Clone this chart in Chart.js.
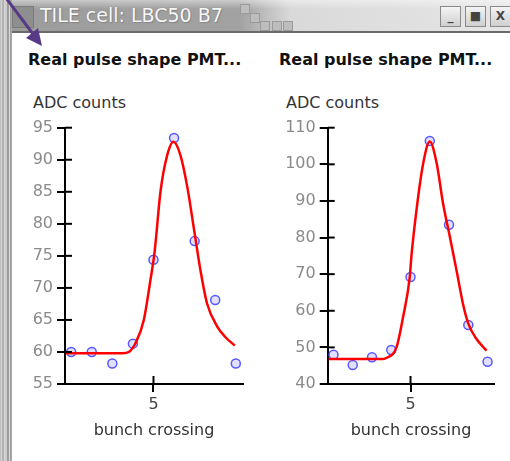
<!DOCTYPE html>
<html>
<head>
<meta charset="utf-8">
<script src="https://cdn.jsdelivr.net/npm/chart.js@4.4.0/dist/chart.umd.min.js"></script>
<style>
  body { margin: 0; width: 510px; height: 461px; overflow: hidden; background: #fff; position: relative;
         font-family: "DejaVu Sans", sans-serif; }
  .titlebar { position: absolute; left: 0; top: 0; width: 510px; height: 31px;
              background: linear-gradient(to right, #9c9c9c 0, #a2a2a2 240px, #d9d9d9 290px, #e6e6e6 100%);
              border-bottom: 2px solid #6a6a6a; }
  .titlebar .shine { position: absolute; left: 0; top: 0; width: 100%; height: 9px;
                     background: linear-gradient(to bottom, rgba(255,255,255,0.45), rgba(255,255,255,0)); }
  .titlebar .icon { position: absolute; left: 12px; top: 6px; width: 20px; height: 20px;
                    background: #8e8e8e; border: 1px solid #7a7a7a; }
  .titlebar .caption { position: absolute; left: 40px; top: 4px; font-size: 19px; color: #f7f7f7;
                       text-shadow: 0 0 1px #777, 1px 1px 1px #888; white-space: nowrap; }
  .titlebar .chk { position: absolute; width: 8px; height: 8px; background: #bdbdbd; border: 1px solid #9a9a9a; }
  .btn { position: absolute; top: 6px; width: 19px; height: 19px; background: linear-gradient(#f4f4f4, #cfcfcf);
         border: 1px solid #8a8a8a; font-size: 12px; line-height: 19px; text-align: center; color: #444; font-weight: bold; }
  .frame { position: absolute; left: 0; top: 0; width: 12px; height: 461px;
           background: linear-gradient(to right, #b8b8b8 0, #dcdcdc 2px, #8c8c8c 3px, #d6d6d6 4px, #c8c8c8 7px, #6e6e6e 8px, #d0d0d0 9px, #e4e4e4 10px, #555 11px, #fff 12px); }
  .ptitle { position: absolute; top: 50px; font-size: 16px; font-weight: bold; color: #111; white-space: nowrap; }
  .ylab { position: absolute; top: 93px; font-size: 16px; color: #333; white-space: nowrap; }
  canvas { position: absolute; top: 60px; }
  #arrow { position: absolute; left: 0; top: 0; }
</style>
</head>
<body>
<div class="titlebar">
  <div class="shine"></div>
  <div class="icon"></div>
  <div class="caption">TILE cell: LBC50 B7</div>
  <div class="chk" style="left:240px;top:4px"></div>
  <div class="chk" style="left:250px;top:13px"></div>
  <div class="chk" style="left:260px;top:21px"></div>
  <div class="chk" style="left:272px;top:21px"></div>
  <div class="chk" style="left:283px;top:21px"></div>
  <div class="btn" style="left:440px">_</div>
  <div class="btn" style="left:465px">&#9632;</div>
  <div class="btn" style="left:490px">X</div>
</div>
<div class="frame"></div>

<div class="ptitle" style="left:28px">Real pulse shape PMT...</div>
<div class="ptitle" style="left:279px">Real pulse shape PMT...</div>
<div class="ylab" style="left:33px">ADC counts</div>
<div class="ylab" style="left:286px">ADC counts</div>

<canvas id="leftChart" width="243" height="400" style="left:12px"></canvas>
<canvas id="rightChart" width="255" height="400" style="left:255px"></canvas>

<svg id="arrow" width="60" height="60">
  <line x1="6" y1="-2" x2="36" y2="38" stroke="#563a86" stroke-width="3"/>
  <polygon points="42,46 26,38 38,28" fill="#563a86"/>
</svg>

<script>
// --- DATA ---
const bunchX = [1, 2, 3, 4, 5, 6, 7, 8, 9];
const leftSamples = [60.0, 60.0, 58.2, 61.3, 74.4, 93.4, 77.3, 68.1, 58.2];
const rightSamples = [48.0, 45.2, 47.3, 49.3, 69.2, 106.4, 83.5, 56.1, 46.1];

// fitted pulse shape
const leftFitX = [0.75, 1.5, 2.5, 3.5, 3.8, 4.13, 4.53, 4.85, 5.05, 5.34, 5.65, 5.97, 6.3, 6.64, 7.0, 7.28, 7.6, 8.09, 8.5, 8.95];
const leftFitY = [59.8, 59.8, 59.8, 59.8, 60.0, 61.4, 65.0, 71.2, 75.5, 85.0, 90.5, 92.8, 90.8, 85.8, 78.5, 72.8, 67.6, 64.0, 62.3, 61.0];
const rightFitX = [0.75, 1.5, 2.5, 3.5, 3.74, 4.27, 4.61, 4.96, 5.05, 5.31, 5.65, 6.0, 6.35, 6.69, 7.05, 7.39, 7.74, 8.0, 8.4, 8.95];
const rightFitY = [46.8, 46.8, 46.8, 46.8, 47.1, 50.0, 58.2, 69.2, 75.1, 87.5, 100.0, 106.2, 100.5, 89.3, 80.0, 71.0, 61.5, 56.5, 52.5, 49.1];

const xTicks = [5];
const leftYTicks = [55, 60, 65, 70, 75, 80, 85, 90, 95];
const rightYTicks = [40, 50, 60, 70, 80, 90, 100, 110];

const FONT = '"DejaVu Sans", sans-serif';

// tick marks that cross the axis line (library draws only the outer half)
const innerTicks = {
  id: 'innerTicks',
  afterDraw(chart) {
    const { ctx, chartArea, scales } = chart;
    ctx.save();
    ctx.strokeStyle = '#000';
    ctx.lineWidth = 2;
    scales.y.ticks.forEach(t => {
      const py = scales.y.getPixelForValue(t.value);
      ctx.beginPath();
      ctx.moveTo(chartArea.left, py);
      ctx.lineTo(chartArea.left + 7, py);
      ctx.stroke();
    });
    scales.x.ticks.forEach(t => {
      const px = scales.x.getPixelForValue(t.value);
      ctx.beginPath();
      ctx.moveTo(px, chartArea.bottom);
      ctx.lineTo(px, chartArea.bottom - 8);
      ctx.stroke();
    });
    ctx.restore();
  }
};

function makeChart(id, samples, fitX, fitY, yTicks, yWidth, padRight) {
  const fitPoints = fitX.map((x, i) => ({ x: x, y: fitY[i] }));
  const samplePoints = bunchX.map((x, i) => ({ x: x, y: samples[i] }));
  return new Chart(document.getElementById(id), {
    type: 'scatter',
    data: {
      datasets: [
        {
          data: fitPoints,
          showLine: true,
          borderColor: '#ff0000',
          borderWidth: 2.5,
          pointRadius: 0,
          cubicInterpolationMode: 'monotone',
          order: 1
        },
        {
          data: samplePoints,
          pointRadius: 4.5,
          borderColor: 'rgba(60,60,255,0.85)',
          backgroundColor: 'rgba(170,170,255,0.35)',
          borderWidth: 1.5,
          order: 2
        }
      ]
    },
    options: {
      responsive: false,
      animation: false,
      layout: { padding: { left: 0, top: 67.7, right: padRight, bottom: 6 } },
      plugins: { legend: { display: false }, tooltip: { enabled: false } },
      scales: {
        x: {
          type: 'linear',
          min: 0.7,
          max: 9.35,
          afterBuildTicks: s => { s.ticks = xTicks.map(v => ({ value: v })); },
          afterFit: s => { s.height = 70; },
          grid: { drawOnChartArea: false, color: '#000', lineWidth: 2, tickLength: 8 },
          border: { color: '#000', width: 2 },
          ticks: { color: '#444', font: { family: FONT, size: 16 }, padding: 3 },
          title: { display: true, text: 'bunch crossing', color: '#333',
                   font: { family: FONT, size: 16 }, padding: { top: 0, bottom: 14 } }
        },
        y: {
          type: 'linear',
          min: yTicks[0],
          max: yTicks[yTicks.length - 1],
          afterBuildTicks: s => { s.ticks = yTicks.map(v => ({ value: v })); },
          afterFit: s => { s.width = yWidth; },
          grid: { drawOnChartArea: false, color: '#000', lineWidth: 2, tickLength: 8 },
          border: { color: '#000', width: 2 },
          ticks: { color: '#8a8a8a', font: { family: FONT, size: 16 }, padding: 4 }
        }
      }
    },
    plugins: [innerTicks]
  });
}

makeChart('leftChart', leftSamples, leftFitX, leftFitY, leftYTicks, 53, 12);
makeChart('rightChart', rightSamples, rightFitX, rightFitY, rightYTicks, 72.7, 15.7);
</script>
</body>
</html>
